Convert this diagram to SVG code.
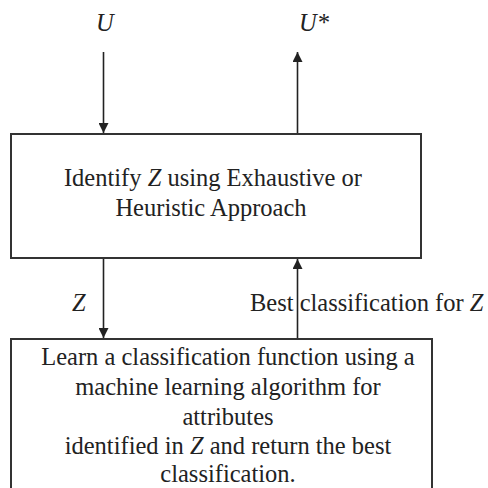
<svg xmlns="http://www.w3.org/2000/svg" width="488" height="488" viewBox="0 0 488 488">
<defs>
<marker id="ah" viewBox="0 0 10 10" refX="10" refY="5" markerWidth="10" markerHeight="10" markerUnits="userSpaceOnUse" orient="auto">
<path d="M0,0 L10,5 L0,10 Z" fill="#222"/>
</marker>
<style>
text{font-family:"Liberation Serif","Times New Roman",serif;font-size:24.5px;fill:#222}
.box{fill:#fff;stroke:#333;stroke-width:2}
.c{text-anchor:middle}
.con{stroke:#222;stroke-width:1.6;fill:none;marker-end:url(#ah)}
</style>
</defs>
<rect width="488" height="488" fill="#fff"/>
<g id="identify">
<rect class="box" x="11" y="134" width="410" height="124"/>
<text class="c" x="213" y="186">Identify <tspan font-style="italic">Z</tspan> using Exhaustive or</text>
<text class="c" x="211" y="216">Heuristic Approach</text>
</g>
<g id="learn">
<rect class="box" x="11" y="339" width="421" height="160"/>
<text class="c" x="228" y="365">Learn a classification function using a</text>
<text class="c" x="228" y="395">machine learning algorithm for</text>
<text class="c" x="228" y="425">attributes</text>
<text class="c" x="228" y="454">identified in <tspan font-style="italic">Z</tspan> and return the best</text>
<text class="c" x="228" y="482">classification.</text>
</g>
<g id="connectors">
<line class="con" x1="103.5" y1="52" x2="103.5" y2="133"/>
<line class="con" x1="297.5" y1="133" x2="297.5" y2="52"/>
<line class="con" x1="103.5" y1="259" x2="103.5" y2="338"/>
<line class="con" x1="297.5" y1="338" x2="297.5" y2="259"/>
</g>
<g id="labels">
<text x="96" y="31" font-style="italic">U</text>
<text x="299" y="31" font-style="italic">U*</text>
<text x="72" y="311" font-style="italic">Z</text>
<text x="250" y="311">Best classification for <tspan font-style="italic">Z</tspan></text>
</g>
</svg>
